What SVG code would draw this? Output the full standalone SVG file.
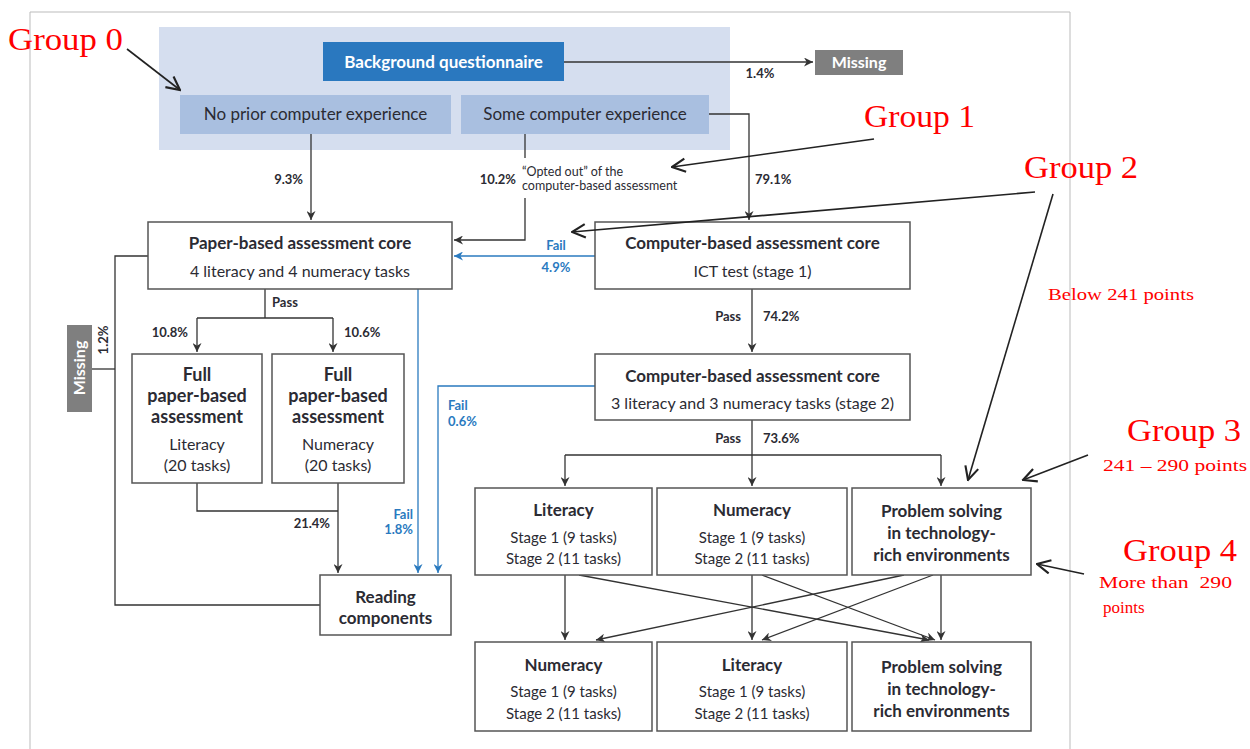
<svg xmlns="http://www.w3.org/2000/svg" width="1250" height="749" viewBox="0 0 1250 749">
<defs>
<style>
.t{font-family:Lato,"Open Sans","Liberation Sans",sans-serif;fill:#2b2b33}
.b{font-weight:700}
.c{text-anchor:middle}
.r{text-anchor:end}
.box{fill:#fff;stroke:#555;stroke-width:1.5}
.ln{fill:none;stroke:#333;stroke-width:1.3}
.bl{fill:none;stroke:#2a7abf;stroke-width:1.3}
.blt{fill:#2a7abf}
.red{font-family:"Liberation Serif","DejaVu Serif",serif;fill:#f00}
.ann{fill:none;stroke:#222;stroke-width:1.6}
</style>
<marker id="ah" viewBox="0 0 10 10" refX="10" refY="5" markerWidth="9" markerHeight="9" markerUnits="userSpaceOnUse" orient="auto">
<path d="M0,0 L10,5 L0,10 L3,5 z" fill="#333"/>
</marker>
<marker id="ahb" viewBox="0 0 10 10" refX="10" refY="5" markerWidth="9" markerHeight="9" markerUnits="userSpaceOnUse" orient="auto">
<path d="M0,0 L10,5 L0,10 L3,5 z" fill="#2a7abf"/>
</marker>
<marker id="av" viewBox="0 0 12 12" refX="11" refY="6" markerWidth="16" markerHeight="16" markerUnits="userSpaceOnUse" orient="auto">
<path d="M1,1 L11,6 L1,11" fill="none" stroke="#222" stroke-width="1.6"/>
</marker>
</defs>
<rect width="1250" height="749" fill="#fff"/>
<path d="M30,749 V12 H1070 V749" fill="none" stroke="#bbb" stroke-width="1"/>
<g id="group0-bg"><rect x="159" y="27" width="571" height="123" fill="#d5deef"/></g>

<g id="connectors">
<path class="ln" d="M564,62 H813" marker-end="url(#ah)"/>
<path class="ln" d="M311,134 V220" marker-end="url(#ah)"/>
<path class="ln" d="M525,134 V158"/>
<path class="ln" d="M525,198 V240 H454" marker-end="url(#ah)"/>
<path class="ln" d="M709,114 H749 V220" marker-end="url(#ah)"/>
<path class="bl" d="M595,256 H454" marker-end="url(#ahb)"/>
<path class="ln" d="M752,289 V352" marker-end="url(#ah)"/>
<path class="bl" d="M595,386 H438 V573" marker-end="url(#ahb)"/>
<path class="bl" d="M418,289 V573" marker-end="url(#ahb)"/>
<path class="ln" d="M752,420 V486" marker-end="url(#ah)"/>
<path class="ln" d="M565,455 H941"/>
<path class="ln" d="M565,455 V486" marker-end="url(#ah)"/>
<path class="ln" d="M941,455 V486" marker-end="url(#ah)"/>
<path class="ln" d="M265,289 V318"/>
<path class="ln" d="M197,318 H333"/>
<path class="ln" d="M197,318 V352" marker-end="url(#ah)"/>
<path class="ln" d="M333,318 V352" marker-end="url(#ah)"/>
<path class="ln" d="M197,483 V511 H338"/>
<path class="ln" d="M338,483 V573" marker-end="url(#ah)"/>
<path class="ln" d="M148,256 H115 V605 H320"/>
<path class="ln" d="M92,369 H115"/>
<path class="ln" d="M565,575 V640" marker-end="url(#ah)"/>
<path class="ln" d="M752,575 V640" marker-end="url(#ah)"/>
<path class="ln" d="M941,575 V640" marker-end="url(#ah)"/>
<path class="ln" d="M579,575 L929,640" marker-end="url(#ah)"/>
<path class="ln" d="M762,575 L935,640" marker-end="url(#ah)"/>
<path class="ln" d="M904,575 L596,640" marker-end="url(#ah)"/>
<path class="ln" d="M933,575 L762,640" marker-end="url(#ah)"/>
</g>

<g id="labels">
<text class="t b c" x="760" y="78" font-size="13">1.4%</text>
<text class="t b r" x="303" y="184" font-size="13">9.3%</text>
<text class="t b r" x="516" y="184" font-size="13">10.2%</text>
<text class="t" x="522" y="176" font-size="12.5">“Opted out” of the</text>
<text class="t" x="522" y="190" font-size="12.5">computer-based assessment</text>
<text class="t b" x="755" y="184" font-size="13">79.1%</text>
<text class="blt b c" x="556" y="250" font-size="13" font-family="Lato,sans-serif">Fail</text>
<text class="blt b c" x="556" y="272" font-size="13" font-family="Lato,sans-serif">4.9%</text>
<text class="t b r" x="741" y="321" font-size="13">Pass</text>
<text class="t b" x="763" y="321" font-size="13">74.2%</text>
<text class="blt b" x="448" y="410" font-size="13" font-family="Lato,sans-serif">Fail</text>
<text class="blt b" x="448" y="426" font-size="13" font-family="Lato,sans-serif">0.6%</text>
<text class="blt b r" x="413" y="519" font-size="13" font-family="Lato,sans-serif">Fail</text>
<text class="blt b r" x="413" y="534" font-size="13" font-family="Lato,sans-serif">1.8%</text>
<text class="t b r" x="741" y="443" font-size="13">Pass</text>
<text class="t b" x="763" y="443" font-size="13">73.6%</text>
<text class="t b" x="272" y="307" font-size="13">Pass</text>
<text class="t b r" x="188" y="337" font-size="13">10.8%</text>
<text class="t b" x="344" y="337" font-size="13">10.6%</text>
<text class="t b r" x="330" y="528" font-size="13">21.4%</text>
<text class="t b c" x="0" y="0" font-size="13" transform="translate(108,340) rotate(-90)">1.2%</text>
</g>

<g id="bq"><rect x="323" y="42" width="241" height="39" fill="#2a78bf"/><text class="t b c" x="443.5" y="68" font-size="17" style="fill:#fff">Background questionnaire</text></g>
<g id="no-prior"><rect x="180" y="95" width="271" height="39" fill="#a9bfe0"/><text class="t c" x="315.5" y="120" font-size="17">No prior computer experience</text></g>
<g id="some"><rect x="461" y="95" width="248" height="39" fill="#a9bfe0"/><text class="t c" x="585" y="120" font-size="17">Some computer experience</text></g>
<g id="missing-top"><rect x="815" y="50" width="88" height="25" fill="#7f7f7f"/><text class="t b c" x="859" y="68" font-size="16" style="fill:#fff">Missing</text></g>
<g id="missing-left"><rect x="67" y="325" width="25" height="87" fill="#7f7f7f"/><text class="t b c" x="0" y="0" font-size="16" style="fill:#fff" transform="translate(85,368) rotate(-90)">Missing</text></g>

<g id="paper-core"><rect class="box" x="148" y="222" width="304" height="67"/>
<text class="t b c" x="300" y="249" font-size="17">Paper-based assessment core</text>
<text class="t c" x="300" y="277" font-size="16">4 literacy and 4 numeracy tasks</text></g>
<g id="cba1"><rect class="box" x="595" y="222" width="315" height="67"/>
<text class="t b c" x="752.5" y="249" font-size="17">Computer-based assessment core</text>
<text class="t c" x="752.5" y="277" font-size="16">ICT test (stage 1)</text></g>
<g id="cba2"><rect class="box" x="595" y="354" width="315" height="66"/>
<text class="t b c" x="752.5" y="382" font-size="17">Computer-based assessment core</text>
<text class="t c" x="752.5" y="409" font-size="16">3 literacy and 3 numeracy tasks (stage 2)</text></g>

<g id="full-lit"><rect class="box" x="132" y="354" width="130" height="129"/>
<text class="t b c" x="197" y="381" font-size="18">Full</text>
<text class="t b c" x="197" y="402" font-size="18">paper-based</text>
<text class="t b c" x="197" y="423" font-size="18">assessment</text>
<text class="t c" x="197" y="450" font-size="16">Literacy</text>
<text class="t c" x="197" y="471" font-size="16">(20 tasks)</text></g>
<g id="full-num"><rect class="box" x="272" y="354" width="132" height="129"/>
<text class="t b c" x="338" y="381" font-size="18">Full</text>
<text class="t b c" x="338" y="402" font-size="18">paper-based</text>
<text class="t b c" x="338" y="423" font-size="18">assessment</text>
<text class="t c" x="338" y="450" font-size="16">Numeracy</text>
<text class="t c" x="338" y="471" font-size="16">(20 tasks)</text></g>
<g id="reading"><rect class="box" x="320" y="575" width="131" height="60"/>
<text class="t b c" x="385.5" y="603" font-size="17">Reading</text>
<text class="t b c" x="385.5" y="624" font-size="17">components</text></g>

<g id="r1-lit"><rect class="box" x="475" y="488" width="177" height="87"/>
<text class="t b c" x="563.5" y="516" font-size="17">Literacy</text>
<text class="t c" x="563.5" y="543" font-size="15">Stage 1 (9 tasks)</text>
<text class="t c" x="563.5" y="564" font-size="15">Stage 2 (11 tasks)</text></g>
<g id="r1-num"><rect class="box" x="657" y="488" width="190" height="87"/>
<text class="t b c" x="752" y="516" font-size="17">Numeracy</text>
<text class="t c" x="752" y="543" font-size="15">Stage 1 (9 tasks)</text>
<text class="t c" x="752" y="564" font-size="15">Stage 2 (11 tasks)</text></g>
<g id="r1-ps"><rect class="box" x="852" y="488" width="179" height="87"/>
<text class="t b c" x="941.5" y="517" font-size="17">Problem solving</text>
<text class="t b c" x="941.5" y="539" font-size="17">in technology-</text>
<text class="t b c" x="941.5" y="561" font-size="17">rich environments</text></g>

<g id="r2-num"><rect class="box" x="475" y="642" width="177" height="89"/>
<text class="t b c" x="563.5" y="671" font-size="17">Numeracy</text>
<text class="t c" x="563.5" y="697" font-size="15">Stage 1 (9 tasks)</text>
<text class="t c" x="563.5" y="719" font-size="15">Stage 2 (11 tasks)</text></g>
<g id="r2-lit"><rect class="box" x="657" y="642" width="190" height="89"/>
<text class="t b c" x="752" y="671" font-size="17">Literacy</text>
<text class="t c" x="752" y="697" font-size="15">Stage 1 (9 tasks)</text>
<text class="t c" x="752" y="719" font-size="15">Stage 2 (11 tasks)</text></g>
<g id="r2-ps"><rect class="box" x="852" y="642" width="179" height="89"/>
<text class="t b c" x="941.5" y="673" font-size="17">Problem solving</text>
<text class="t b c" x="941.5" y="695" font-size="17">in technology-</text>
<text class="t b c" x="941.5" y="717" font-size="17">rich environments</text></g>

<g id="annotations">
<path class="ann" d="M127,49 L180,90" marker-end="url(#av)"/>
<path class="ann" d="M874,139 L672,167" marker-end="url(#av)"/>
<path class="ann" d="M1035,192 L572,232" marker-end="url(#av)"/>
<path class="ann" d="M1053,194 L968,480" marker-end="url(#av)"/>
<path class="ann" d="M1088,455 L1023,480" marker-end="url(#av)"/>
<path class="ann" d="M1084,574 L1037,564" marker-end="url(#av)"/>
<text class="red" x="8" y="50" font-size="32" textLength="115" lengthAdjust="spacingAndGlyphs">Group 0</text>
<text class="red" x="864" y="127" font-size="32" textLength="111" lengthAdjust="spacingAndGlyphs">Group 1</text>
<text class="red" x="1024" y="178" font-size="32" textLength="114" lengthAdjust="spacingAndGlyphs">Group 2</text>
<text class="red" x="1048" y="300" font-size="17" textLength="146" lengthAdjust="spacingAndGlyphs">Below 241 points</text>
<text class="red" x="1127" y="441" font-size="32" textLength="114" lengthAdjust="spacingAndGlyphs">Group 3</text>
<text class="red" x="1103" y="471" font-size="17" textLength="144" lengthAdjust="spacingAndGlyphs">241 – 290 points</text>
<text class="red" x="1123" y="561" font-size="32" textLength="114" lengthAdjust="spacingAndGlyphs">Group 4</text>
<text class="red" x="1099" y="588" font-size="17" xml:space="preserve" textLength="133" lengthAdjust="spacingAndGlyphs">More than  290</text>
<text class="red" x="1103" y="613" font-size="17">points</text>
</g>
</svg>
